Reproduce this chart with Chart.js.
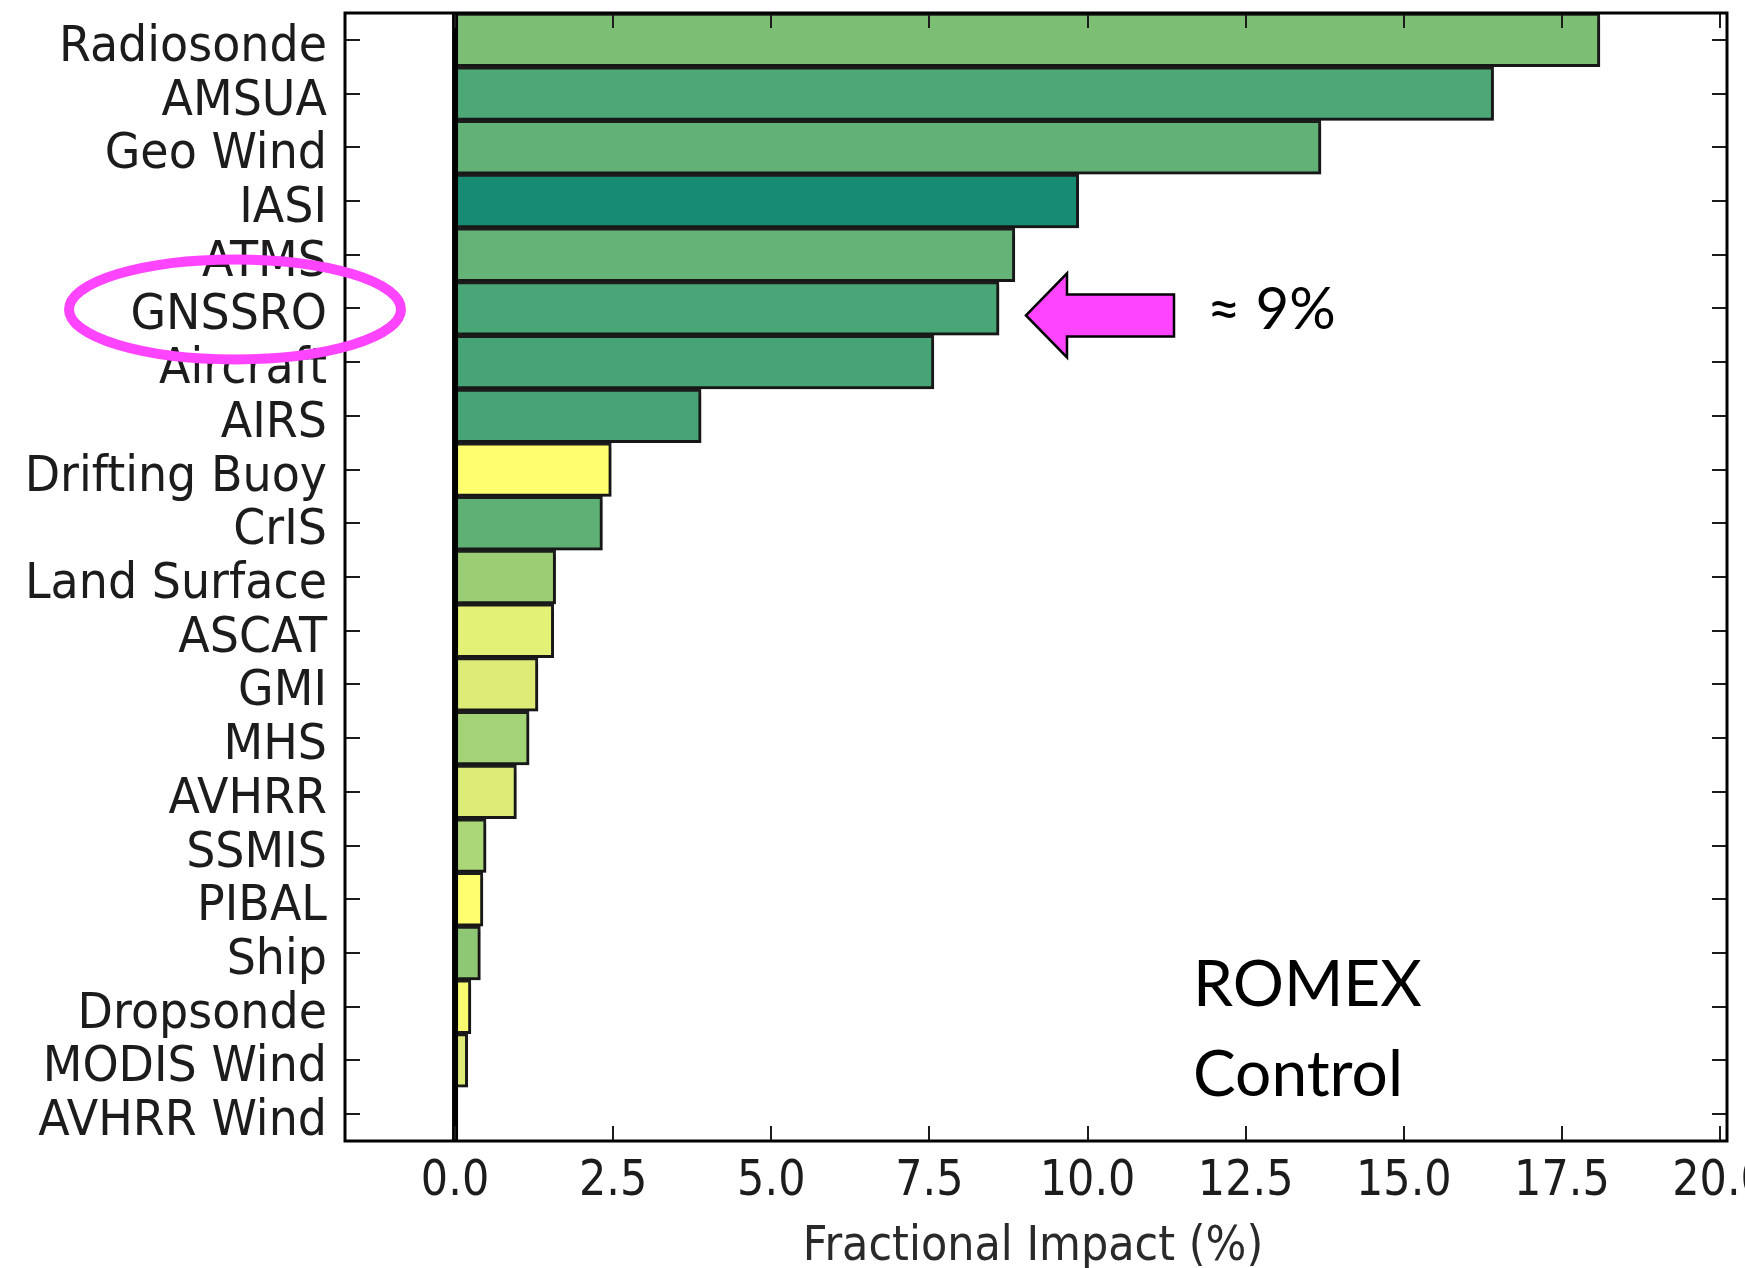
<!DOCTYPE html>
<html>
<head>
<meta charset="utf-8">
<script src="https://cdn.jsdelivr.net/npm/chart.js@4.4.1/dist/chart.umd.min.js"></script>
<style>
  html, body { margin: 0; padding: 0; background: #fff; }
  #wrap { width: 1745px; height: 1268px; position: relative; }
</style>
</head>
<body>
<div id="wrap"><canvas id="c" width="1745" height="1268"></canvas></div>
<script>
// Observing systems, ranked by fractional impact (%)
const categories = [
  'Radiosonde', 'AMSUA', 'Geo Wind', 'IASI', 'ATMS', 'GNSSRO', 'Aircraft', 'AIRS',
  'Drifting Buoy', 'CrIS', 'Land Surface', 'ASCAT', 'GMI', 'MHS', 'AVHRR', 'SSMIS',
  'PIBAL', 'Ship', 'Dropsonde', 'MODIS Wind', 'AVHRR Wind'
];
const impact = [
  18.10, 16.42, 13.69, 9.86, 8.85, 8.60, 7.57, 3.89,
  2.47, 2.33, 1.59, 1.56, 1.31, 1.17, 0.97, 0.49,
  0.44, 0.40, 0.25, 0.20, 0.02
];
const barColors = [
  '#7dbe75', '#4da777', '#62b177', '#188c73', '#66b378', '#49a677', '#46a476', '#46a476',
  '#ffff70', '#5fb075', '#9bcd74', '#e3f177', '#dcec77', '#a3d277', '#ddec77', '#abd778',
  '#ffff70', '#8ec874', '#f8f96e', '#dfe976', '#e8f078'
];
const xRange = [-1.74, 20.11];
const xTickStep = 2.5;
const xTitle = 'Fractional Impact (%)';
const highlighted = 'GNSSRO';
const calloutText = '\u2248 9%';
const panelText = ['ROMEX', 'Control'];

const MAGENTA = '#ff44ff';
const INK = '#1c1c1c';
const AXIS_FONT = 'DejaVu Sans';

// draw text with a slight vertical stretch (tall axis lettering)
function tallText(ctx, text, x, baseline, sy) {
  ctx.save();
  ctx.translate(x, baseline);
  ctx.scale(1, sy);
  ctx.fillText(text, 0, 0);
  ctx.restore();
}

// Bar drop shadow, matplotlib-style frame with inward ticks, zero line, axis text and annotations
const decorations = {
  id: 'decorations',
  beforeDatasetsDraw(chart) {
    const ctx = chart.ctx;
    ctx.save();
    ctx.shadowColor = 'rgba(0,0,0,0.17)';
    ctx.shadowOffsetX = 4;
    ctx.shadowOffsetY = 4;
    ctx.shadowBlur = 0;
  },
  afterDatasetsDraw(chart) {
    const ctx = chart.ctx;
    ctx.restore();
    const { left, right, top, bottom } = chart.chartArea;
    const xs = chart.scales.x, ys = chart.scales.y;

    ctx.save();
    // zero line
    const x0 = xs.getPixelForValue(0);
    ctx.strokeStyle = '#000';
    ctx.lineWidth = 6;
    ctx.beginPath();
    ctx.moveTo(x0, top);
    ctx.lineTo(x0, bottom);
    ctx.stroke();

    // inward ticks on all four sides
    const tl = 15;
    ctx.lineWidth = 2;
    ctx.strokeStyle = INK;
    ctx.beginPath();
    ys.ticks.forEach((t, i) => {
      const y = Math.round(ys.getPixelForTick(i));
      ctx.moveTo(left, y); ctx.lineTo(left + tl, y);
      ctx.moveTo(right, y); ctx.lineTo(right - tl, y);
    });
    xs.ticks.forEach((t, i) => {
      const x = Math.round(xs.getPixelForTick(i));
      ctx.moveTo(x, bottom); ctx.lineTo(x, bottom - tl);
      ctx.moveTo(x, top); ctx.lineTo(x, top + tl);
    });
    ctx.stroke();

    // frame
    ctx.lineWidth = 3;
    ctx.strokeStyle = '#000';
    ctx.strokeRect(left, top, right - left, bottom - top);

    // category labels
    ctx.fillStyle = INK;
    ctx.textBaseline = 'alphabetic';
    ctx.textAlign = 'right';
    ctx.font = '46px "' + AXIS_FONT + '"';
    ys.ticks.forEach((t, i) => {
      tallText(ctx, ys.getLabelForValue(t.value), left - 18, ys.getPixelForTick(i) + 21, 1.07);
    });

    // value tick labels
    ctx.textAlign = 'center';
    ctx.font = '43px "' + AXIS_FONT + '"';
    xs.ticks.forEach((t, i) => {
      tallText(ctx, Number(t.value).toFixed(1), xs.getPixelForTick(i), bottom + 54, 1.15);
    });

    // axis title
    ctx.fillStyle = '#2a2a2a';
    ctx.font = '43px "' + AXIS_FONT + '"';
    tallText(ctx, xTitle, (left + right) / 2 - 3, bottom + 119, 1.12);
    ctx.restore();
  },
  afterDraw(chart) {
    const ctx = chart.ctx;
    const xs = chart.scales.x, ys = chart.scales.y;
    const idx = categories.indexOf(highlighted);
    const rowY = ys.getPixelForValue(idx);

    ctx.save();
    // ellipse around the highlighted label
    ctx.strokeStyle = MAGENTA;
    ctx.lineWidth = 10;
    ctx.beginPath();
    ctx.ellipse(235, rowY + 1, 166, 50, 0, 0, Math.PI * 2);
    ctx.stroke();

    // arrow pointing at the highlighted bar
    const tipX = xs.getPixelForValue(impact[idx]) + 27;
    const cy = rowY + 7;
    const headLen = 41, headHalf = 42, shaftHalf = 21, totalLen = 148;
    ctx.beginPath();
    ctx.moveTo(tipX, cy);
    ctx.lineTo(tipX + headLen, cy - headHalf);
    ctx.lineTo(tipX + headLen, cy - shaftHalf);
    ctx.lineTo(tipX + totalLen, cy - shaftHalf);
    ctx.lineTo(tipX + totalLen, cy + shaftHalf);
    ctx.lineTo(tipX + headLen, cy + shaftHalf);
    ctx.lineTo(tipX + headLen, cy + headHalf);
    ctx.closePath();
    ctx.fillStyle = MAGENTA;
    ctx.fill();
    ctx.lineWidth = 2.5;
    ctx.strokeStyle = '#000';
    ctx.lineJoin = 'miter';
    ctx.stroke();

    // callout value
    ctx.fillStyle = '#000';
    ctx.font = '58px Lato';
    ctx.textAlign = 'left';
    ctx.textBaseline = 'alphabetic';
    ctx.fillText(calloutText, tipX + 181, cy + 14);

    // panel label
    ctx.font = '64px Lato';
    ctx.fillText(panelText[0], 1193, 1006);
    ctx.fillText(panelText[1], 1193, 1096);
    ctx.restore();
  }
};

new Chart(document.getElementById('c'), {
  type: 'bar',
  data: {
    labels: categories,
    datasets: [{
      data: impact,
      backgroundColor: barColors,
      borderColor: INK,
      borderWidth: 3,
      borderSkipped: false,
      barPercentage: 1.0,
      categoryPercentage: 1.0
    }]
  },
  options: {
    indexAxis: 'y',
    responsive: false,
    animation: false,
    devicePixelRatio: 1,
    layout: { padding: { top: 13, right: 18, bottom: 0, left: 0 } },
    plugins: {
      legend: { display: false },
      tooltip: { enabled: false }
    },
    scales: {
      x: {
        type: 'linear',
        min: xRange[0],
        max: xRange[1],
        grid: { display: false, drawTicks: false },
        border: { display: false },
        ticks: {
          display: false,
          stepSize: xTickStep,
          includeBounds: false,
          autoSkip: false,
          maxRotation: 0
        },
        afterFit(scale) {
          scale.height = 127;
          scale.paddingLeft = 0;
          scale.paddingRight = 0;
        }
      },
      y: {
        type: 'category',
        grid: { display: false, drawTicks: false },
        border: { display: false },
        ticks: { display: false, autoSkip: false },
        afterFit(scale) {
          scale.width = 345;
          scale.paddingTop = 0;
          scale.paddingBottom = 0;
        }
      }
    }
  },
  plugins: [decorations]
});
</script>
</body>
</html>
